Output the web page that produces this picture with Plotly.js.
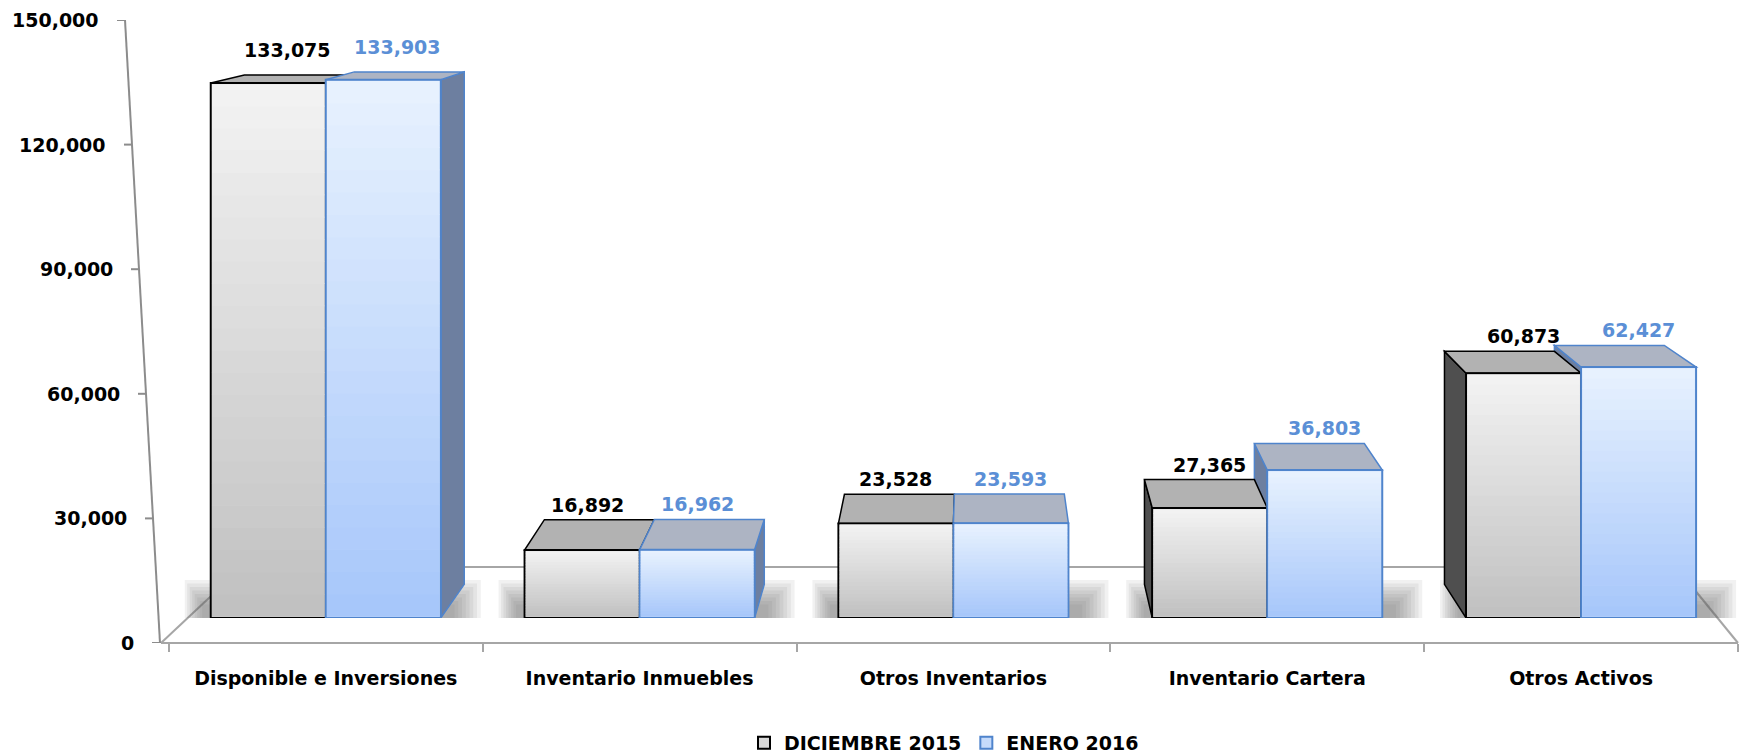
<!DOCTYPE html>
<html>
<head>
<meta charset="utf-8">
<script src="https://cdn.plot.ly/plotly-3.0.1.min.js"></script>
<style>html,body{margin:0;padding:0;background:#fff;}#chart{width:1746px;height:754px;}</style>
</head>
<body>
<div id="chart"></div>
<script>
// ---------- data ----------
const categories = ["Disponible e Inversiones", "Inventario Inmuebles", "Otros Inventarios", "Inventario Cartera", "Otros Activos"];
const dic2015 = [133075, 16892, 23528, 27365, 60873];
const ene2016 = [133903, 16962, 23593, 36803, 62427];
const seriesNames = ["DICIEMBRE 2015", "ENERO 2016"];
const yTicks = [0, 30000, 60000, 90000, 120000, 150000];

// ---------- styling / geometry constants ----------
const FONT = "'DejaVu Sans', 'Liberation Sans', sans-serif";
const W = 1746, H = 754;
const ML = 150, MR = 8, MT = 15, MB = 111;
const PW = W - ML - MR, PH = H - MT - MB;
const XR = [-0.56, 4.5];
const PPU = PW / (XR[1] - XR[0]);
const BW = 115 / PPU;                 // bar width in category units
const BAR_FLOOR_PX = 25;              // bars stand a bit behind the floor front edge
const YMAX = 150000;
const barPxPerVal = (PH - BAR_FLOOR_PX) / YMAX;
const fmt = v => v.toLocaleString('en-US');

const pxX = u => ML + (u - XR[0]) * PPU;
const pxYbar = v => MT + PH - BAR_FLOOR_PX - v * barPxPerVal;
const depthDy = ypx => 4 + 0.048 * ypx;        // perspective depth (vertical)
const depthDx = xpx => 0.044 * (975 - xpx);    // perspective depth (horizontal)
const floorDy = depthDy(MT + PH - BAR_FLOOR_PX);

const styles = [
  {gTop: [243, 243, 243], gBot: [192, 192, 192], top: '#b2b2b2', side: '#4f4f4f', line: '#000000', label: '#000000', legend: '#d9d9d9'},
  {gTop: [232, 242, 254], gBot: [166, 198, 250], top: '#adb4c3', side: '#6d7fa0', line: '#4f84cc', label: '#5b8fd6', legend: '#c6dbfb'}
];
const mix = (a, b, t) => `rgb(${a.map((c, k) => Math.round(c + (b[k] - c) * t)).join(',')})`;

// ---------- traces ----------
const traces = [dic2015, ene2016].map((vals, s) => ({
  type: 'bar', name: seriesNames[s], x: categories, y: vals,
  xaxis: 'x', yaxis: 'y',
  marker: {color: styles[s].legend, line: {color: styles[s].line, width: 2}},
  hoverinfo: 'x+y'
}));
// invisible helper so the value axis used for ticks exists
traces.push({type: 'scatter', x: [categories[0]], y: [0], yaxis: 'y2', mode: 'markers',
  marker: {opacity: 0}, showlegend: false, hoverinfo: 'skip'});

// ---------- 3D-look shapes derived from the data ----------
const shapes = [];
const floorLine = {color: '#a6a6a6', width: 2};
const fx0 = (161 - ML) / PW, fx1 = 1.0, fbx0 = (242 - ML) / PW, fbx1 = (1676 - ML) / PW, fby = 76 / PH;
shapes.push({type: 'line', xref: 'paper', yref: 'paper', x0: fx0, y0: 0, x1: fbx0, y1: fby, line: floorLine, layer: 'below'});
shapes.push({type: 'line', xref: 'paper', yref: 'paper', x0: fbx0, y0: fby, x1: fbx1, y1: fby, line: floorLine, layer: 'below'});
shapes.push({type: 'line', xref: 'paper', yref: 'paper', x0: fbx1, y0: fby, x1: fx1, y1: 0, line: floorLine, layer: 'below'});
shapes.push({type: 'line', xref: 'paper', yref: 'paper', x0: fx0, y0: 0, x1: fx1, y1: 0, line: floorLine, layer: 'below'});

const annotations = [];
const wpx = BW * PPU;
const NB = 24; // gradient bands per bar
categories.forEach((c, i) => {
  // soft shadow under each pair
  for (let k = 0; k < 8; k++) {
    const f = 1 - k / 8;
    const l = -6 - 20 * f, r = 2 * wpx + 10 + 30 * f, b = -2 - 12 * f, t = 10 + 28 * f;
    shapes.push({type: 'path', xref: 'x', yref: 'y', xsizemode: 'pixel', ysizemode: 'pixel',
      xanchor: i - BW, yanchor: 0,
      path: `M ${l},${b} L ${r},${b} L ${r},${t} L ${l},${t} Z`,
      fillcolor: '#5f5f5f', opacity: 0.09, line: {width: 0}, layer: 'below'});
  }
  const geo = [dic2015, ene2016].map((vals, s) => {
    const v = vals[i];
    const left = s === 0 ? i - BW : i;
    const xl = pxX(left), xr = xl + wpx;
    const dy = depthDy(pxYbar(v));
    return {v, left, dy, dxl: depthDx(xl), dxr: depthDx(xr), hpx: v * barPxPerVal, st: styles[s]};
  });
  // side faces first
  geo.forEach(g => {
    if (g.dxr > 2) {
      shapes.push({type: 'path', xref: 'x', yref: 'y', xsizemode: 'pixel', ysizemode: 'pixel',
        xanchor: g.left, yanchor: g.v,
        path: `M ${wpx},0 L ${wpx + g.dxr},${g.dy} L ${wpx + g.dxr},${-g.hpx + floorDy} L ${wpx},${-g.hpx} Z`,
        fillcolor: g.st.side, line: {color: g.st.line, width: 1.5}, layer: 'below'});
    }
    if (g.dxl < -2) {
      shapes.push({type: 'path', xref: 'x', yref: 'y', xsizemode: 'pixel', ysizemode: 'pixel',
        xanchor: g.left, yanchor: g.v,
        path: `M 0,0 L ${g.dxl},${g.dy} L ${g.dxl},${-g.hpx + floorDy} L 0,${-g.hpx} Z`,
        fillcolor: g.st.side, line: {color: g.st.line, width: 1.5}, layer: 'below'});
    }
  });
  // top faces, labels and front-face gradient
  geo.forEach(g => {
    shapes.push({type: 'path', xref: 'x', yref: 'y', xsizemode: 'pixel', ysizemode: 'pixel',
      xanchor: g.left, yanchor: g.v,
      path: `M 0,0 L ${wpx},0 L ${wpx + g.dxr},${g.dy} L ${g.dxl},${g.dy} Z`,
      fillcolor: g.st.top, line: {color: g.st.line, width: 1.5}, layer: 'below'});
    const inner = g.hpx - 2.4;
    for (let k = 0; k < NB; k++) {
      const y0 = 1.2 + inner * k / NB, y1 = 1.2 + inner * (k + 1) / NB + 0.6;
      shapes.push({type: 'path', xref: 'x', yref: 'y', xsizemode: 'pixel', ysizemode: 'pixel',
        xanchor: g.left, yanchor: 0,
        path: `M 1.2,${y0} L ${wpx - 1.2},${y0} L ${wpx - 1.2},${Math.min(y1, g.hpx - 1.2)} L 1.2,${Math.min(y1, g.hpx - 1.2)} Z`,
        fillcolor: mix(g.st.gBot, g.st.gTop, (k + 0.5) / NB), line: {width: 0}, layer: 'above'});
    }
    annotations.push({xref: 'x', yref: 'y', x: g.left + BW / 2, y: g.v, text: fmt(g.v), showarrow: false,
      xanchor: 'center', yanchor: 'bottom', yshift: Math.max(g.dy + 2, 20),
      xshift: Math.max(0, (g.dxl + g.dxr) / 2 - 12),
      font: {family: FONT, size: 19, color: g.st.label, weight: 'bold'}});
  });
});

// slanted value axis with ticks and labels
const axisX = v => 160 - 35 * v / YMAX;
const toPaperX = px => (px - ML) / PW;
shapes.push({type: 'line', xref: 'paper', yref: 'y2', x0: toPaperX(axisX(0)), y0: 0,
  x1: toPaperX(axisX(YMAX)), y1: YMAX, line: {color: '#8c8c8c', width: 2}});
yTicks.forEach(v => {
  shapes.push({type: 'line', xref: 'paper', yref: 'y2', x0: toPaperX(axisX(v) - 8), y0: v,
    x1: toPaperX(axisX(v)), y1: v, line: {color: '#8c8c8c', width: 2}});
  annotations.push({xref: 'paper', yref: 'y2', x: toPaperX(axisX(v) - 24), y: v, text: fmt(v),
    showarrow: false, xanchor: 'right', yanchor: 'middle',
    font: {family: FONT, size: 19, color: '#000000', weight: 'bold'}});
});

const layout = {
  width: W, height: H,
  margin: {l: ML, r: MR, t: MT, b: MB, autoexpand: false},
  paper_bgcolor: '#ffffff', plot_bgcolor: 'rgba(0,0,0,0)',
  barmode: 'group', bargap: 1 - 2 * BW, bargroupgap: 0,
  font: {family: FONT, size: 19, color: '#000000', weight: 'bold'},
  xaxis: {
    range: XR, anchor: 'free', position: 0,
    showline: false, ticks: 'outside', ticklen: 8, tickwidth: 2, tickcolor: '#a6a6a6', tickson: 'boundaries',
    ticklabelstandoff: 22,
    showgrid: false, zeroline: false,
    tickfont: {family: FONT, size: 19, color: '#000000', weight: 'bold'}
  },
  yaxis: {
    domain: [BAR_FLOOR_PX / PH, 1], range: [0, YMAX],
    showline: false, showticklabels: false, ticks: '', showgrid: false, zeroline: false
  },
  yaxis2: {
    domain: [0, (PH - 5) / PH], range: [0, YMAX], anchor: 'x',
    showline: false, showticklabels: false, ticks: '', showgrid: false, zeroline: false
  },
  shapes: shapes,
  annotations: annotations,
  legend: {
    orientation: 'h', x: 0.5, xanchor: 'center', y: -0.159, yanchor: 'middle',
    font: {family: FONT, size: 19, color: '#000000', weight: 'bold'},
    itemwidth: 30, traceorder: 'normal'
  },
  showlegend: true
};

Plotly.newPlot('chart', traces, layout, {displayModeBar: false, staticPlot: true});
</script>
</body>
</html>
